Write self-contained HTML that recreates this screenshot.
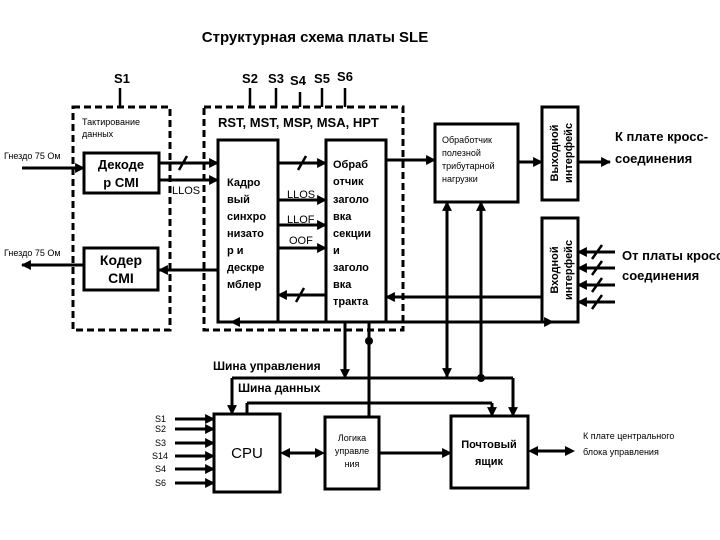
<!DOCTYPE html>
<html><head><meta charset="utf-8"><style>
html,body{margin:0;padding:0;background:#fff;width:720px;height:540px;overflow:hidden}
svg{display:block}
text{font-family:"Liberation Sans","DejaVu Sans",sans-serif;fill:#000}
.b{font-weight:bold}
</style></head><body>
<svg width="720" height="540" viewBox="0 0 720 540" xmlns="http://www.w3.org/2000/svg">
<defs>
<marker id="a" viewBox="0 0 10 10" refX="9" refY="5" markerWidth="3.3" markerHeight="3.3" orient="auto"><path d="M0,0L10,5L0,10z" fill="#000"/></marker>
</defs>
<text x="315" y="42" text-anchor="middle" font-size="15" class="b">Структурная схема платы SLE</text>
<text x="122" y="83" text-anchor="middle" font-size="13" class="b">S1</text>
<text x="250" y="83" text-anchor="middle" font-size="13" class="b">S2</text>
<text x="276" y="83" text-anchor="middle" font-size="13" class="b">S3</text>
<text x="298" y="85" text-anchor="middle" font-size="13" class="b">S4</text>
<text x="322" y="83" text-anchor="middle" font-size="13" class="b">S5</text>
<text x="345" y="81" text-anchor="middle" font-size="13" class="b">S6</text>
<g stroke="#000" stroke-width="2.5" fill="none">
<line x1="120" y1="88" x2="120" y2="107"/>
<line x1="250" y1="88" x2="250" y2="107"/>
<line x1="276" y1="88" x2="276" y2="107"/>
<line x1="300" y1="92" x2="300" y2="107"/>
<line x1="322" y1="88" x2="322" y2="107"/>
<line x1="345" y1="88" x2="345" y2="107"/>
</g>
<g stroke="#000" stroke-width="3" fill="none" stroke-dasharray="7,4">
<rect x="73" y="107" width="97" height="223"/>
<rect x="204" y="107" width="199" height="223"/>
</g>
<text x="82" y="125" font-size="9">Тактирование</text>
<text x="82" y="137" font-size="9">данных</text>
<text x="218" y="127" font-size="13" class="b">RST, MST, MSP, MSA, HPT</text>
<g stroke="#000" stroke-width="3" fill="#fff">
<rect x="84" y="153" width="75" height="40"/>
<rect x="84" y="248" width="74" height="42"/>
<rect x="218" y="140" width="60" height="182"/>
<rect x="326" y="140" width="60" height="182"/>
<rect x="435" y="124" width="83" height="78"/>
<rect x="542" y="107" width="36" height="93"/>
<rect x="542" y="218" width="36" height="104"/>
<rect x="214" y="414" width="66" height="78"/>
<rect x="325" y="417" width="54" height="72"/>
<rect x="451" y="416" width="77" height="72"/>
</g>
<text x="121" y="169" text-anchor="middle" font-size="13" class="b">Декоде</text>
<text x="121" y="187" text-anchor="middle" font-size="13" class="b">р CMI</text>
<text x="121" y="265" text-anchor="middle" font-size="14" class="b">Кодер</text>
<text x="121" y="283" text-anchor="middle" font-size="14" class="b">CMI</text>
<g font-size="11" class="b">
<text x="227" y="186">Кадро</text><text x="227" y="203">вый</text><text x="227" y="220">синхро</text><text x="227" y="237">низато</text><text x="227" y="254">р и</text><text x="227" y="271">дескре</text><text x="227" y="288">мблер</text>
<text x="333" y="168">Обраб</text><text x="333" y="185">отчик</text><text x="333" y="203">заголо</text><text x="333" y="220">вка</text><text x="333" y="237">секции</text><text x="333" y="254">и</text><text x="333" y="271">заголо</text><text x="333" y="288">вка</text><text x="333" y="305">тракта</text>
</g>
<g font-size="9">
<text x="442" y="143">Обработчик</text><text x="442" y="156">полезной</text><text x="442" y="169">трибутарной</text><text x="442" y="182">нагрузки</text>
</g>
<text transform="translate(558,153) rotate(-90)" text-anchor="middle" font-size="11" class="b">Выходной</text>
<text transform="translate(572,153) rotate(-90)" text-anchor="middle" font-size="11" class="b">интерфейс</text>
<text transform="translate(558,270) rotate(-90)" text-anchor="middle" font-size="11" class="b">Входной</text>
<text transform="translate(572,270) rotate(-90)" text-anchor="middle" font-size="11" class="b">интерфейс</text>
<text x="615" y="141" font-size="13" class="b">К плате кросс-</text>
<text x="615" y="163" font-size="13" class="b">соединения</text>
<text x="622" y="260" font-size="13" class="b">От платы кросс</text>
<text x="622" y="280" font-size="13" class="b">соединения</text>
<text x="4" y="159" font-size="9">Гнездо 75 Ом</text>
<text x="4" y="256" font-size="9">Гнездо 75 Ом</text>
<text x="172" y="194" font-size="11">LLOS</text>
<text x="287" y="198" font-size="11">LLOS</text>
<text x="287" y="223" font-size="11">LLOF</text>
<text x="289" y="244" font-size="11">OOF</text>
<g stroke="#000" stroke-width="3" fill="none" marker-end="url(#a)">
<line x1="22" y1="168" x2="84" y2="168"/>
<line x1="84" y1="265" x2="22" y2="265"/>
<line x1="159" y1="163" x2="218" y2="163"/>
<line x1="159" y1="180" x2="218" y2="180"/>
<line x1="218" y1="270" x2="159" y2="270"/>
<line x1="278" y1="163" x2="326" y2="163"/>
<line x1="278" y1="200" x2="326" y2="200"/>
<line x1="278" y1="225" x2="326" y2="225"/>
<line x1="278" y1="248" x2="326" y2="248"/>
<line x1="326" y1="295" x2="278" y2="295"/>
<line x1="386" y1="160" x2="435" y2="160"/>
<line x1="518" y1="162" x2="542" y2="162"/>
<line x1="578" y1="162" x2="610" y2="162"/>
<line x1="542" y1="297" x2="386" y2="297"/>
<line x1="615" y1="252" x2="578" y2="252"/>
<line x1="615" y1="268" x2="578" y2="268"/>
<line x1="615" y1="285" x2="578" y2="285"/>
<line x1="615" y1="302" x2="578" y2="302"/>
<line x1="447" y1="378" x2="447" y2="202"/>
<line x1="481" y1="378" x2="481" y2="202"/>
<line x1="345" y1="322" x2="345" y2="378"/>
<line x1="447" y1="330" x2="447" y2="377"/>
<line x1="232" y1="378" x2="232" y2="414"/>
<line x1="513" y1="378" x2="513" y2="416"/>
<line x1="492" y1="403" x2="492" y2="416"/>
<line x1="379" y1="453" x2="451" y2="453"/>
<line x1="175" y1="419" x2="214" y2="419"/>
<line x1="175" y1="429" x2="214" y2="429"/>
<line x1="175" y1="443" x2="214" y2="443"/>
<line x1="175" y1="456" x2="214" y2="456"/>
<line x1="175" y1="469" x2="214" y2="469"/>
<line x1="175" y1="483" x2="214" y2="483"/>
</g>
<g stroke="#000" stroke-width="3" fill="none">
<line x1="218" y1="322" x2="553" y2="322" marker-end="url(#a)"/>
<line x1="232" y1="378" x2="513" y2="378"/>
<line x1="247" y1="414" x2="247" y2="403"/>
<line x1="247" y1="403" x2="492" y2="403"/>
<line x1="369" y1="322" x2="369" y2="417"/>
<line x1="290" y1="453" x2="315" y2="453"/>
<line x1="538" y1="451" x2="565" y2="451"/>
</g>
<g fill="#000">
<path d="M280,453l10,-5v10z"/><path d="M325,453l-10,-5v10z"/>
<path d="M528,451l10,-5v10z"/><path d="M575,451l-10,-5v10z"/>
<path d="M230,322l10,-5v10z"/>
<circle cx="369" cy="341" r="4"/><circle cx="481" cy="378" r="4"/>
</g>
<g stroke="#000" stroke-width="2.5">
<line x1="179" y1="170" x2="187" y2="156"/>
<line x1="298" y1="170" x2="306" y2="156"/>
<line x1="296" y1="302" x2="304" y2="288"/>
<line x1="592" y1="259" x2="602" y2="245"/>
<line x1="592" y1="275" x2="602" y2="261"/>
<line x1="592" y1="292" x2="602" y2="278"/>
<line x1="592" y1="309" x2="602" y2="295"/>
</g>
<text x="213" y="370" font-size="12" class="b">Шина управления</text>
<text x="238" y="392" font-size="12" class="b">Шина данных</text>
<g font-size="9">
<text x="155" y="422">S1</text><text x="155" y="432">S2</text><text x="155" y="446">S3</text><text x="152" y="459">S14</text><text x="155" y="472">S4</text><text x="155" y="486">S6</text>
</g>
<text x="247" y="458" text-anchor="middle" font-size="15">CPU</text>
<text x="352" y="441" text-anchor="middle" font-size="9">Логика</text>
<text x="352" y="454" text-anchor="middle" font-size="9">управле</text>
<text x="352" y="467" text-anchor="middle" font-size="9">ния</text>
<text x="489" y="448" text-anchor="middle" font-size="11" class="b">Почтовый</text>
<text x="489" y="465" text-anchor="middle" font-size="11" class="b">ящик</text>
<text x="583" y="439" font-size="9">К плате центрального</text>
<text x="583" y="455" font-size="9">блока управления</text>
</svg>
</body></html>
